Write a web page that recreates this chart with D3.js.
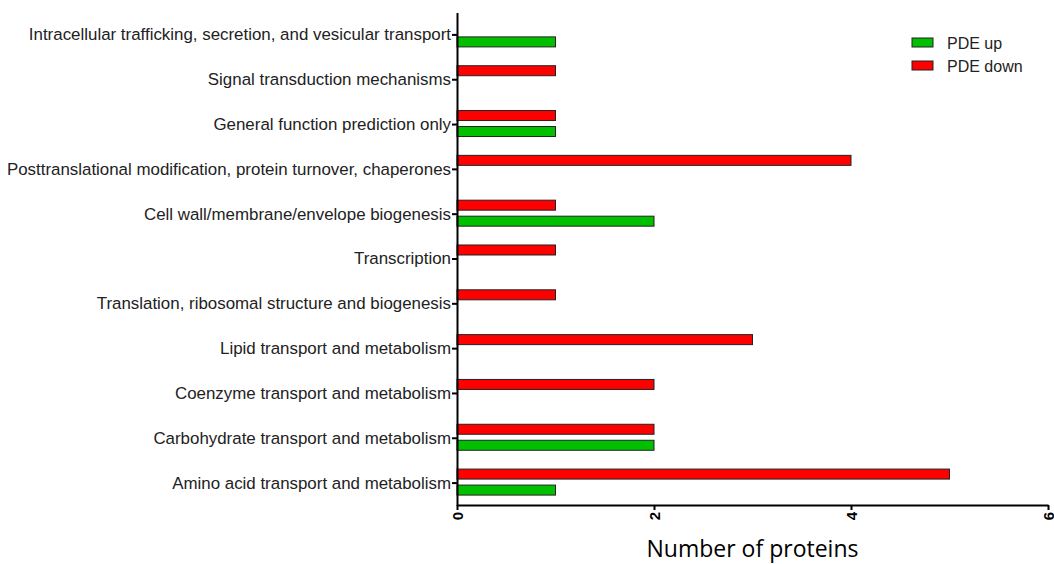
<!DOCTYPE html>
<html>
<head>
<meta charset="utf-8">
<script src="https://cdn.jsdelivr.net/npm/d3@7"></script>
<style>
  html, body { margin: 0; padding: 0; background: #fff; }
  svg { display: block; }
</style>
</head>
<body>
<svg id="chart" width="1054" height="564"></svg>
<script>
const categories = [
  "Intracellular trafficking, secretion, and vesicular transport",
  "Signal transduction mechanisms",
  "General function prediction only",
  "Posttranslational modification, protein turnover, chaperones",
  "Cell wall/membrane/envelope biogenesis",
  "Transcription",
  "Translation, ribosomal structure and biogenesis",
  "Lipid transport and metabolism",
  "Coenzyme transport and metabolism",
  "Carbohydrate transport and metabolism",
  "Amino acid transport and metabolism"
];
const pdeUp   = [1, 0, 1, 0, 2, 0, 0, 0, 0, 2, 1];
const pdeDown = [0, 1, 1, 4, 1, 1, 1, 3, 2, 2, 5];
const seriesNames = ["PDE down", "PDE up"];
const xTicks = [0, 2, 4, 6];
const xTitle = "Number of proteins";

const colors = { "PDE up": "#00C000", "PDE down": "#FF0000" };

const svg = d3.select("#chart");
const x = d3.scaleLinear().domain([0, 6]).range([457, 1048]);
const y = d3.scaleBand().domain(categories).range([12.5, 505.5]).padding(0);
const inner = d3.scaleBand().domain(seriesNames).range([8.4, 34.4]).paddingInner(0.375).paddingOuter(0);

const rows = categories.map((c, i) => ({ cat: c, "PDE up": pdeUp[i], "PDE down": pdeDown[i] }));

const g = svg.append("g");
rows.forEach(r => {
  seriesNames.forEach(s => {
    if (r[s] > 0) {
      g.append("rect")
        .attr("x", x(0))
        .attr("y", y(r.cat) + inner(s))
        .attr("width", x(r[s]) - x(0))
        .attr("height", inner.bandwidth())
        .attr("fill", colors[s])
        .attr("stroke", "#222")
        .attr("stroke-width", 1);
    }
  });
});

// Y axis
const yAxis = d3.axisLeft(y).tickSize(5).tickPadding(1).tickSizeOuter(0);
const yg = svg.append("g").attr("transform", `translate(${x(0)},0)`).call(yAxis);
yg.select(".domain").attr("stroke", "#000").attr("stroke-width", 2);
yg.selectAll(".tick line").attr("stroke", "#000").attr("stroke-width", 2);
yg.selectAll(".tick text")
  .attr("font-family", "'Liberation Sans', Arial, sans-serif")
  .attr("font-size", 16.9)
  .attr("fill", "#222");

// X axis
const xAxis = d3.axisBottom(x).tickValues(xTicks).tickSize(5).tickSizeOuter(0).tickFormat(d3.format("d"));
const xg = svg.append("g").attr("transform", `translate(0,505)`).call(xAxis);
xg.select(".domain").attr("stroke", "#000").attr("stroke-width", 2);
xg.selectAll(".tick line").attr("stroke", "#000").attr("stroke-width", 2);
xg.selectAll(".tick text")
  .attr("font-family", "'Liberation Sans', Arial, sans-serif")
  .attr("font-size", 15)
  .attr("font-weight", "bold")
  .attr("fill", "#000")
  .attr("transform", "rotate(-90)")
  .attr("text-anchor", "end")
  .attr("dy", "0.35em")
  .attr("x", -7)
  .attr("y", 0);

// X title
svg.append("text")
  .attr("x", (x(0) + x(6)) / 2)
  .attr("y", 557)
  .attr("text-anchor", "middle")
  .attr("font-family", "'Open Sans', sans-serif")
  .attr("font-size", 23)
  .attr("fill", "#000")
  .text(xTitle);

// Legend
const legendItems = ["PDE up", "PDE down"];
const lg = svg.append("g").attr("transform", "translate(912,38)");
legendItems.forEach((s, i) => {
  const row = lg.append("g").attr("transform", `translate(0,${i * 23})`);
  row.append("rect").attr("x", 0).attr("y", 0).attr("width", 21).attr("height", 9)
    .attr("fill", colors[s]).attr("stroke", "#222").attr("stroke-width", 1);
  row.append("text").attr("x", 35).attr("y", 10.5)
    .attr("font-family", "'Liberation Sans', Arial, sans-serif")
    .attr("font-size", 16).attr("fill", "#222").text(s);
});
</script>
</body>
</html>
